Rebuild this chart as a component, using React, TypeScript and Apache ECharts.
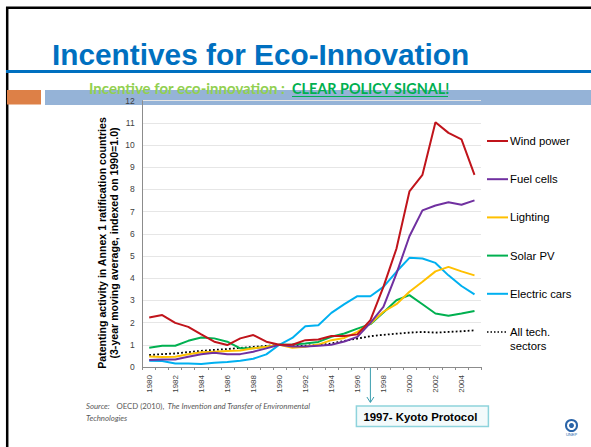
import React, { useEffect, useRef } from "react";
import * as echarts from "echarts";

const years = ["1980","1981","1982","1983","1984","1985","1986","1987","1988","1989","1990","1991","1992","1993","1994","1995","1996","1997","1998","1999","2000","2001","2002","2003","2004","2005"];

const windPower = [2.23, 2.34, 1.99, 1.81, 1.47, 1.14, 0.99, 1.29, 1.44, 1.14, 1.0, 1.0, 1.21, 1.24, 1.4, 1.4, 1.47, 2.11, 3.61, 5.33, 7.91, 8.66, 11.03, 10.55, 10.26, 8.66];
const fuelCells = [0.31, 0.34, 0.34, 0.46, 0.57, 0.64, 0.57, 0.58, 0.69, 0.84, 1.0, 0.92, 0.92, 0.96, 1.0, 1.15, 1.36, 1.99, 2.71, 4.21, 5.89, 7.06, 7.28, 7.42, 7.31, 7.51];
const lighting = [0.47, 0.45, 0.46, 0.57, 0.66, 0.69, 0.72, 0.74, 0.84, 0.91, 1.0, 0.87, 0.91, 1.01, 1.21, 1.31, 1.58, 1.96, 2.49, 2.83, 3.39, 3.84, 4.31, 4.51, 4.31, 4.13];
const solarPV = [0.87, 0.96, 0.96, 1.18, 1.33, 1.29, 1.14, 0.84, 0.84, 0.91, 1.0, 1.01, 1.06, 1.13, 1.36, 1.51, 1.73, 1.93, 2.46, 3.01, 3.24, 2.83, 2.41, 2.31, 2.41, 2.52];
const electricCars = [0.28, 0.27, 0.16, 0.16, 0.13, 0.19, 0.22, 0.28, 0.37, 0.57, 1.0, 1.31, 1.84, 1.88, 2.44, 2.83, 3.19, 3.19, 3.61, 4.29, 4.92, 4.89, 4.69, 4.13, 3.65, 3.27];
const allTech = [0.54, 0.58, 0.61, 0.67, 0.73, 0.77, 0.81, 0.86, 0.91, 0.95, 1.0, 0.94, 0.96, 0.99, 1.06, 1.18, 1.28, 1.39, 1.45, 1.5, 1.55, 1.58, 1.55, 1.58, 1.61, 1.65];

const seriesNames = ["Wind power", "Fuel cells", "Lighting", "Solar PV", "Electric cars", "All tech.\nsectors"];
const seriesColors = ["#C0141B", "#7030A0", "#FFC000", "#00B050", "#00B0F0", "#000000"];
const seriesData = [windPower, fuelCells, lighting, solarPV, electricCars, allTech];

const kyotoYear = "1997";
const kyotoLabel = "1997- Kyoto Protocol";
const yTicks = { min: 0, max: 12, interval: 1 };

const title = "Incentives for Eco-Innovation";
const subtitleA = "Incentive for eco-innovation : ";
const subtitleB = "CLEAR POLICY SIGNAL!";
const yAxisName = "Patenting activity in Annex 1 ratification countries\n(3-year moving average, indexed on 1990=1.0)";

export default function App() {
  const ref = useRef<HTMLDivElement>(null);
  useEffect(() => {
    if (!ref.current) return;
    const chart = echarts.init(ref.current, undefined, { renderer: "svg" });
    const arial = "'Liberation Sans', Arial, sans-serif";
    const cal = "Lato, 'Open Sans', sans-serif";

    const series = seriesData.map((d, i) => ({
      name: seriesNames[i],
      type: "line",
      data: d,
      symbol: "none",
      lineStyle: {
        color: seriesColors[i],
        width: i === 5 ? 1.8 : 2,
        type: i === 5 ? [1.8, 2.2] : "solid",
      },
      itemStyle: { color: seriesColors[i] },
      z: 10 - i,
    }));

    const legendEls: any[] = [];
    seriesNames.forEach((n, i) => {
      const y = 141 + 38.2 * i;
      legendEls.push({
        type: "line",
        shape: { x1: 487, y1: y, x2: 508, y2: y },
        style: {
          stroke: seriesColors[i],
          lineWidth: i === 5 ? 1.5 : 2,
          lineDash: i === 5 ? [1.5, 2] : null,
        },
      });
      legendEls.push({
        type: "text",
        x: 510,
        y: i === 5 ? y - 7 : y,
        style: {
          text: n,
          font: `11.3px ${arial}`,
          fill: "#000",
          align: "left",
          verticalAlign: i === 5 ? "top" : "middle",
          lineHeight: 14,
        },
      });
    });

    const baseGraphics: any[] = [
      { type: "rect", shape: { x: 0, y: 0, width: 591, height: 447 }, style: { fill: "#fff" }, z: -10 },
      { type: "line", shape: { x1: 7.2, y1: 7, x2: 7.2, y2: 447 }, style: { stroke: "#000", lineWidth: 2.5 } },
      { type: "line", shape: { x1: 6, y1: 7.8, x2: 591, y2: 7.8 }, style: { stroke: "#000", lineWidth: 2.5 } },
      { type: "rect", shape: { x: 6, y: 70, width: 585, height: 3 }, style: { fill: "#0070C0" } },
      { type: "rect", shape: { x: 7, y: 90, width: 34, height: 14.5 }, style: { fill: "#DD8047" } },
      { type: "rect", shape: { x: 45, y: 90, width: 546, height: 15 }, style: { fill: "#95B3D7" } },
      {
        type: "text", x: 52, y: 54,
        style: { text: title, font: `bold 29.8px ${arial}`, fill: "#0070C0", align: "left", verticalAlign: "middle" },
      },
      {
        type: "text", x: 89, y: 88,
        style: { text: subtitleA, font: `bold 15px ${cal}`, fill: "#92D050", align: "left", verticalAlign: "middle" },
        z: 5,
      },
      {
        type: "text", x: 292, y: 88,
        style: { text: subtitleB, font: `bold 14.4px ${cal}`, fill: "#00B050", align: "left", verticalAlign: "middle" },
        z: 5,
      },
      { type: "line", shape: { x1: 292, y1: 96.5, x2: 448, y2: 96.5 }, style: { stroke: "#00B050", lineWidth: 1 }, z: 5 },
      {
        type: "text", x: 107.5, y: 243, rotation: Math.PI / 2,
        style: { text: yAxisName, font: `bold 10.6px ${arial}`, fill: "#000", align: "center", verticalAlign: "middle", lineHeight: 12 },
      },
      {
        type: "text", x: 86, y: 400,
        style: {
          text: "{i|Source:}  {n|OECD (2010),} {i|The Invention and Transfer of Environmental}\n{i|Technologies}",
          align: "left", verticalAlign: "top", lineHeight: 12,
          rich: {
            i: { font: `italic 7.8px ${cal}`, fill: "#595959", lineHeight: 12 },
            n: { font: `7.8px ${cal}`, fill: "#595959", lineHeight: 12 },
          },
        },
      },
      { type: "circle", shape: { cx: 571.5, cy: 425.5, r: 5.5 }, style: { fill: "#fff", stroke: "#2A64A8", lineWidth: 2 } },
      { type: "circle", shape: { cx: 571.5, cy: 425.5, r: 2.5 }, style: { fill: "#2A64A8" } },
      { type: "text", x: 571.5, y: 434, style: { text: "UNEP", font: `4px ${arial}`, fill: "#2A64A8", align: "center", verticalAlign: "middle" } },
      ...legendEls,
    ];

    const makeOption = (extra: any[]) => ({
      animation: false,
      grid: { left: 142.7, right: 110, top: 100.7, bottom: 80, containLabel: false },
      xAxis: {
        type: "category",
        data: years,
        boundaryGap: true,
        axisLine: { lineStyle: { color: "#8C8C8C", width: 1 } },
        axisTick: { show: true, interval: 0, length: 3, lineStyle: { color: "#8C8C8C" } },
        axisLabel: { interval: 1, rotate: 90, fontSize: 8, color: "#404040", fontFamily: arial, margin: 8 },
        splitLine: { show: false },
      },
      yAxis: {
        type: "value",
        min: yTicks.min,
        max: yTicks.max,
        interval: yTicks.interval,
        axisLine: { show: true, lineStyle: { color: "#8C8C8C", width: 1 } },
        axisTick: { show: false },
        axisLabel: { fontSize: 8.5, color: "#404040", fontFamily: arial, margin: 8 },
        splitLine: { show: true, lineStyle: { color: "#E6E6E6", width: 1 } },
      },
      series,
      graphic: [...baseGraphics, ...extra],
    });

    chart.setOption(makeOption([]));
    const px = chart.convertToPixel({ xAxisIndex: 0 }, kyotoYear) as number;
    const y0 = chart.convertToPixel({ yAxisIndex: 0 }, 0) as number;
    const kColor = "#3A9DAE";
    const kyotoEls = [
      { type: "line", shape: { x1: px, y1: y0, x2: px, y2: 402 }, style: { stroke: kColor, lineWidth: 1 } },
      { type: "polyline", shape: { points: [[px - 3.5, 397], [px, 402.5], [px + 3.5, 397]] }, style: { stroke: kColor, lineWidth: 1, fill: null } },
      { type: "rect", shape: { x: px - 14, y: 406, width: 132, height: 20.5 }, style: { fill: "#F3FAFB", stroke: "#8ED3DC", lineWidth: 1.5 } },
      { type: "text", x: px - 7, y: 416.5, style: { text: kyotoLabel, font: `bold 11.4px ${arial}`, fill: "#000", align: "left", verticalAlign: "middle" } },
    ];
    chart.setOption(makeOption(kyotoEls), true);
    return () => chart.dispose();
  }, []);
  return <div ref={ref} style={{ position: "absolute", left: 0, top: 0, width: 591, height: 447 }} />;
}
